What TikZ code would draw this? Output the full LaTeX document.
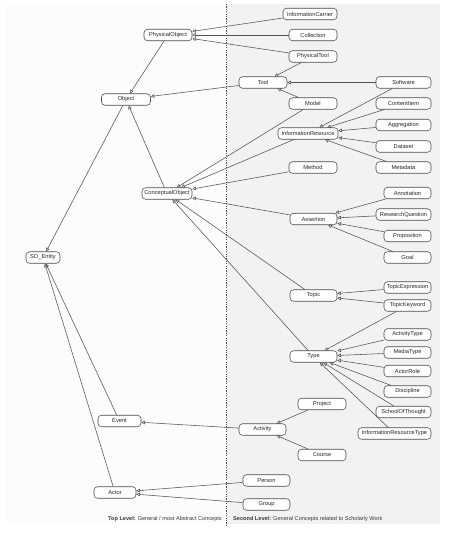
\documentclass[tikz,border=0pt]{standalone}
\usepackage{fontspec}
\setmainfont{Liberation Sans}
\usepackage{tikz}
\usetikzlibrary{arrows.meta}

\begin{document}
\begin{tikzpicture}[x=1pt,y=-1pt,
  cls/.style={draw=black!70,line width=0.55pt,fill=white,rounded corners=3.5pt,minimum height=11.5pt,inner sep=0pt,text=black!85,font=\fontsize{5.7}{6.5}\selectfont},
  isa/.style={draw=black!68,line width=0.55pt,-{Triangle[open,length=3.6pt,width=3.6pt]}},
  lvl/.style={text=black!78,inner sep=0pt,font=\fontsize{5.6}{6.5}\selectfont}]
\useasboundingbox (0,0) rectangle (474,560);
\fill[black!1] (5,4) rectangle (227,523);
\fill[black!5] (227,4) rectangle (440,524);
\draw[black!70,line width=0.5pt,dash pattern=on 1.2pt off 1.2pt] (226.5,4) -- (226.5,525);
\foreach \n/\x/\y/\w in %
{PhysicalObject/168/35/48,Object/126/99.5/49,ConceptualObject/167/193.5/50,
Event/119.5/421/43,Actor/115/492.5/42,
InformationCarrier/310/14/54,Collection/313/35/48,PhysicalTool/313/56.5/48,
Tool/263/82.5/48,Model/313/103.5/48,InformationResource/308/133.5/60,Method/313/167.5/48,
Assertion/313.5/219/47,Topic/313.5/295.5/47,Type/313.5/356.5/47,
Activity/262.5/429.5/47,Project/322/404/48,Course/322/455/48,Person/266.5/480.5/47,Group/266.5/504.5/47,
Software/403.5/82.5/55,ContentItem/403.5/103.5/55,Aggregation/403.5/125/55,Dataset/403.5/146.5/55,Metadata/403.5/167.5/55,
Annotation/407.5/193/47,ResearchQuestion/403.5/214.5/55,Proposition/407.5/236/47,Goal/407.5/257.5/47,
TopicExpression/407.5/287.5/47,TopicKeyword/407.5/305.5/47,
ActivityType/407.5/334.5/47,MediaType/407.5/352.5/47,ActorRole/407.5/371/47,Discipline/407.5/391.5/47,
SchoolOfThought/403.5/412/55,InformationResourceType/394.5/433.5/73} {
   \node[cls,minimum width=\w pt] (\n) at (\x,\y) {\n};
}
\node[cls,minimum width=34pt] (SO_Entity) at (43,257.5) {SO\_Entity};
\foreach \a/\b in %
{InformationCarrier/PhysicalObject,Collection/PhysicalObject,PhysicalTool/PhysicalObject,
PhysicalObject/Object,Tool/Object,ConceptualObject/Object,Object/SO_Entity,
PhysicalTool/Tool,Software/Tool,Model/Tool,Model/ConceptualObject,
Software/InformationResource,ContentItem/InformationResource,Aggregation/InformationResource,
Dataset/InformationResource,Metadata/InformationResource,InformationResource/ConceptualObject,
Method/ConceptualObject,Assertion/ConceptualObject,Topic/ConceptualObject,Type/ConceptualObject,
Annotation/Assertion,ResearchQuestion/Assertion,Proposition/Assertion,Goal/Assertion,
TopicExpression/Topic,TopicKeyword/Topic,TopicKeyword/Type,
ActivityType/Type,MediaType/Type,ActorRole/Type,Discipline/Type,SchoolOfThought/Type,InformationResourceType/Type,
Project/Activity,Course/Activity,Activity/Event,Event/SO_Entity,Actor/SO_Entity,
Person/Actor,Group/Actor} {
   \draw[isa] (\a) -- (\b);
}
\node[lvl,anchor=base east] (toplvl) at (222,520) {\textbf{Top Level:} General / most Abstract Concepts};
\node[lvl,anchor=base west] (secondlvl) at (233,520) {\textbf{Second Level:} General Concepts related to Scholarly Work};
\end{tikzpicture}
\end{document}
